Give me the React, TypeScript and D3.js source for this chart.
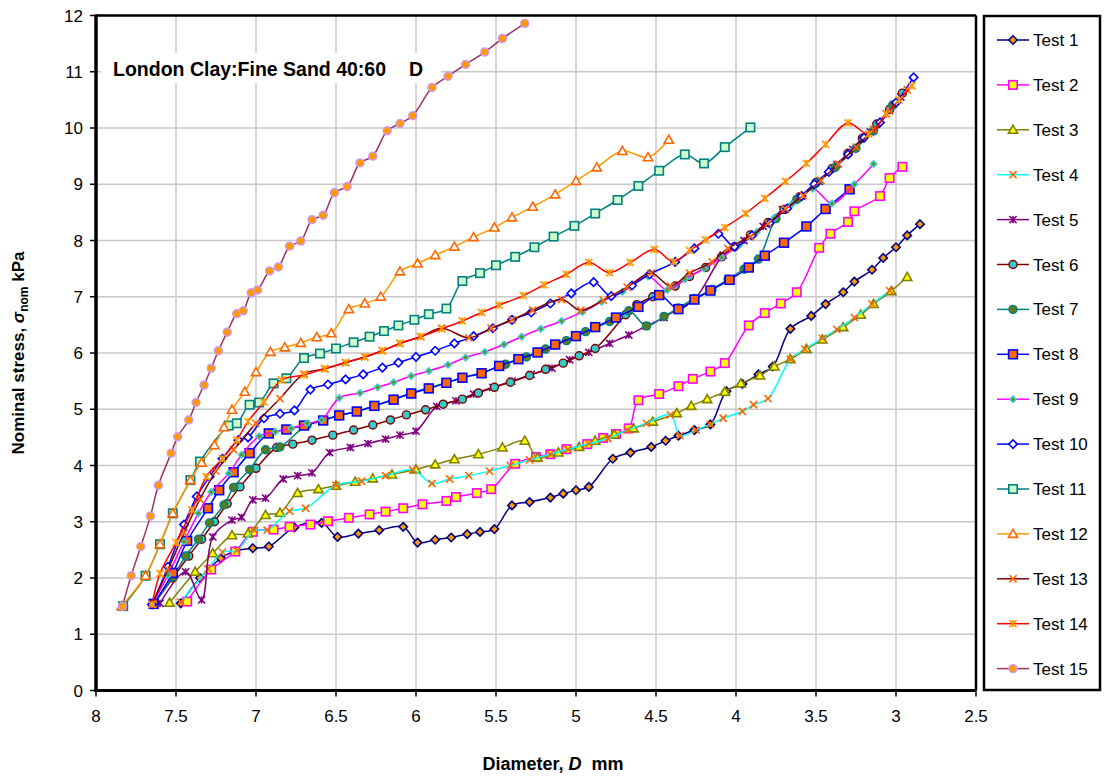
import React from 'react';
import * as d3 from 'd3';

const xTicks = [8, 7.5, 7, 6.5, 6, 5.5, 5, 4.5, 4, 3.5, 3, 2.5];
const yTicks = [0, 1, 2, 3, 4, 5, 6, 7, 8, 9, 10, 11, 12];
const seriesNames = ['Test 1','Test 2','Test 3','Test 4','Test 5','Test 6','Test 7','Test 8','Test 9','Test 10','Test 11','Test 12','Test 13','Test 14','Test 15'];

// [diameter D (mm), nominal stress (kPa)]
const test1 = [[7.47,1.55],[7.35,2.0],[7.22,2.35],[7.13,2.48],[7.02,2.53],[6.92,2.56],[6.76,2.90],[6.59,2.98],[6.49,2.73],[6.36,2.79],[6.23,2.85],[6.08,2.91],[5.99,2.63],[5.88,2.68],[5.78,2.72],[5.68,2.78],[5.60,2.82],[5.51,2.87],[5.40,3.29],[5.29,3.35],[5.16,3.43],[5.08,3.50],[5.00,3.56],[4.92,3.62],[4.77,4.12],[4.66,4.23],[4.53,4.33],[4.44,4.44],[4.36,4.53],[4.26,4.63],[4.16,4.73],[4.06,5.32],[3.96,5.45],[3.86,5.62],[3.77,5.76],[3.66,6.43],[3.53,6.66],[3.44,6.87],[3.33,7.08],[3.26,7.27],[3.15,7.48],[3.08,7.69],[3.00,7.88],[2.93,8.09],[2.85,8.29]];
const test2 = [[7.43,1.58],[7.28,2.15],[7.13,2.47],[7.02,2.82],[6.89,2.86],[6.79,2.91],[6.66,2.95],[6.55,3.01],[6.42,3.07],[6.29,3.13],[6.19,3.18],[6.08,3.24],[5.96,3.31],[5.81,3.37],[5.75,3.44],[5.62,3.51],[5.53,3.58],[5.38,4.03],[5.25,4.15],[5.16,4.20],[5.06,4.29],[4.93,4.38],[4.83,4.49],[4.75,4.56],[4.67,4.66],[4.61,5.16],[4.48,5.27],[4.36,5.41],[4.27,5.54],[4.16,5.67],[4.07,5.82],[3.92,6.49],[3.82,6.71],[3.72,6.88],[3.62,7.08],[3.48,7.87],[3.41,8.12],[3.30,8.33],[3.26,8.52],[3.10,8.79],[3.04,9.11],[2.96,9.31]];
const test3 = [[7.54,1.56],[7.38,2.11],[7.27,2.44],[7.15,2.76],[7.05,2.79],[6.94,3.12],[6.85,3.16],[6.74,3.51],[6.61,3.58],[6.50,3.64],[6.38,3.71],[6.27,3.77],[6.15,3.84],[6.00,3.93],[5.88,4.02],[5.76,4.11],[5.61,4.20],[5.46,4.32],[5.32,4.44],[5.24,4.14],[5.11,4.23],[4.98,4.33],[4.88,4.44],[4.76,4.55],[4.64,4.66],[4.52,4.78],[4.37,4.93],[4.28,5.06],[4.18,5.18],[4.07,5.31],[3.97,5.46],[3.85,5.60],[3.76,5.76],[3.66,5.89],[3.56,6.07],[3.46,6.24],[3.33,6.46],[3.22,6.68],[3.14,6.87],[3.03,7.10],[2.93,7.35]];
const test4 = [[7.47,1.57],[7.30,2.16],[7.21,2.46],[7.12,2.49],[7.01,2.85],[6.93,2.85],[6.79,3.19],[6.69,3.24],[6.50,3.65],[6.34,3.72],[6.19,3.82],[6.02,3.92],[5.90,3.68],[5.79,3.76],[5.67,3.82],[5.54,3.90],[5.41,4.00],[5.29,4.10],[5.16,4.20],[5.05,4.29],[4.92,4.39],[4.80,4.48],[4.68,4.63],[4.56,4.75],[4.41,4.90],[4.35,4.53],[4.25,4.63],[4.16,4.73],[4.08,4.84],[3.96,4.96],[3.89,5.08],[3.80,5.19],[3.66,5.89],[3.57,6.07],[3.46,6.26],[3.37,6.42],[3.26,6.63],[3.15,6.87],[3.04,7.11]];
const test5 = [[7.60,1.55],[7.44,2.11],[7.34,1.61],[7.27,2.73],[7.15,3.03],[7.09,3.08],[7.02,3.39],[6.94,3.42],[6.83,3.76],[6.74,3.82],[6.65,3.87],[6.54,4.23],[6.41,4.32],[6.30,4.39],[6.19,4.47],[6.10,4.54],[6.00,4.61],[5.87,5.05],[5.75,5.15],[5.64,5.27],[5.52,5.39],[5.40,5.50],[5.28,5.62],[5.15,5.73],[5.04,5.88],[4.92,6.01],[4.79,6.17],[4.67,6.32],[4.56,6.48],[4.45,6.63],[4.36,6.79],[4.26,6.95],[4.08,7.74],[3.95,8.0],[3.83,8.25],[3.71,8.55],[3.59,8.79],[3.48,9.05],[3.37,9.35],[3.27,9.62],[3.16,9.93],[3.06,10.25],[2.97,10.55]];
const test6 = [[7.64,1.53],[7.52,2.0],[7.42,2.39],[7.34,2.69],[7.26,3.00],[7.18,3.32],[7.10,3.62],[7.00,3.95],[6.87,4.32],[6.77,4.38],[6.65,4.45],[6.52,4.54],[6.39,4.63],[6.27,4.72],[6.16,4.81],[6.06,4.90],[5.94,4.99],[5.83,5.09],[5.71,5.18],[5.61,5.29],[5.51,5.39],[5.41,5.48],[5.29,5.60],[5.19,5.71],[5.08,5.82],[4.98,5.95],[4.88,6.08],[4.69,6.68],[4.62,6.86],[4.52,7.00],[4.38,7.19],[4.29,7.36],[4.19,7.52],[4.09,7.71],[4.01,7.89],[3.91,8.10],[3.80,8.32],[3.70,8.55],[3.60,8.78],[3.50,9.03],[3.40,9.28],[3.30,9.55],[3.21,9.82],[3.12,10.07],[3.04,10.33],[2.96,10.62]];
const test7 = [[7.64,1.53],[7.52,2.02],[7.44,2.39],[7.36,2.69],[7.29,2.98],[7.20,3.30],[7.14,3.61],[7.04,3.93],[6.94,4.28],[6.85,4.33],[6.68,4.72],[6.48,4.89],[6.37,4.96],[6.26,5.06],[6.14,5.18],[6.03,5.29],[5.92,5.38],[5.81,5.47],[5.71,5.56],[5.59,5.65],[5.44,5.80],[5.31,5.93],[5.19,6.07],[5.06,6.22],[4.94,6.38],[4.79,6.56],[4.67,6.75],[4.56,6.48],[4.45,6.65],[4.36,6.80],[4.26,6.97],[4.15,7.13],[4.05,7.31],[3.95,7.49],[3.86,7.67],[3.75,8.39],[3.62,8.73],[3.50,9.02],[3.38,9.30],[3.25,9.64],[3.14,9.95],[3.02,10.41]];
const test8 = [[7.64,1.54],[7.52,2.09],[7.43,2.66],[7.30,3.24],[7.23,3.56],[7.14,3.88],[7.04,4.22],[6.92,4.57],[6.81,4.64],[6.70,4.71],[6.58,4.80],[6.48,4.89],[6.37,4.96],[6.26,5.06],[6.14,5.17],[6.03,5.28],[5.92,5.37],[5.81,5.47],[5.71,5.56],[5.59,5.64],[5.48,5.77],[5.36,5.89],[5.24,6.01],[5.13,6.15],[5.00,6.30],[4.88,6.46],[4.75,6.63],[4.61,6.82],[4.48,7.03],[4.36,6.78],[4.26,6.95],[4.16,7.11],[4.04,7.30],[3.92,7.52],[3.82,7.73],[3.70,7.96],[3.56,8.25],[3.44,8.56],[3.29,8.91]];
const test9 = [[7.65,1.53],[7.55,2.05],[7.45,2.65],[7.36,3.15],[7.28,3.53],[7.17,3.86],[7.09,4.19],[6.98,4.52],[6.88,4.60],[6.78,4.66],[6.68,4.75],[6.59,4.81],[6.48,5.20],[6.35,5.29],[6.24,5.39],[6.14,5.48],[6.03,5.59],[5.92,5.68],[5.80,5.79],[5.69,5.92],[5.57,6.02],[5.45,6.15],[5.34,6.29],[5.22,6.43],[5.09,6.57],[4.96,6.73],[4.84,6.91],[4.71,7.09],[4.55,7.36],[4.43,7.12],[4.32,7.31],[4.20,7.50],[4.09,7.70],[3.98,7.92],[3.87,8.15],[3.76,8.40],[3.65,8.65],[3.52,8.92],[3.40,8.66],[3.26,9.00],[3.14,9.36]];
const test10 = [[7.65,1.53],[7.55,2.2],[7.45,2.95],[7.37,3.45],[7.29,3.80],[7.21,4.12],[7.11,4.45],[7.05,4.50],[6.95,4.84],[6.85,4.92],[6.76,4.98],[6.66,5.35],[6.55,5.44],[6.44,5.53],[6.33,5.62],[6.21,5.74],[6.11,5.83],[6.00,5.93],[5.88,6.04],[5.76,6.17],[5.64,6.30],[5.52,6.44],[5.40,6.59],[5.28,6.72],[5.16,6.88],[5.03,7.06],[4.89,7.26],[4.78,7.01],[4.65,7.20],[4.54,7.40],[4.38,7.62],[4.26,7.86],[4.11,8.12],[4.01,7.89],[3.90,8.09],[3.79,8.31],[3.68,8.57],[3.59,8.79],[3.51,9.00],[3.42,9.22],[3.30,9.53],[3.20,9.83],[3.10,10.1],[3.00,10.45],[2.89,10.90]];
const test11 = [[7.83,1.50],[7.69,2.04],[7.60,2.60],[7.52,3.15],[7.41,3.74],[7.35,4.07],[7.17,4.71],[7.12,4.75],[7.04,5.08],[6.98,5.12],[6.89,5.46],[6.81,5.55],[6.70,5.91],[6.60,5.99],[6.50,6.08],[6.39,6.19],[6.29,6.29],[6.20,6.39],[6.11,6.49],[6.01,6.59],[5.92,6.69],[5.81,6.79],[5.71,7.28],[5.60,7.42],[5.50,7.56],[5.38,7.71],[5.26,7.88],[5.14,8.07],[5.01,8.26],[4.88,8.48],[4.74,8.72],[4.61,8.97],[4.48,9.24],[4.32,9.53],[4.20,9.37],[4.07,9.66],[3.91,10.01]];
const test12 = [[7.84,1.50],[7.69,2.04],[7.60,2.60],[7.52,3.15],[7.41,3.74],[7.34,4.05],[7.26,4.36],[7.20,4.68],[7.15,4.99],[7.07,5.31],[7.00,5.66],[6.91,6.02],[6.82,6.10],[6.72,6.18],[6.62,6.28],[6.53,6.35],[6.42,6.78],[6.32,6.88],[6.22,7.00],[6.10,7.45],[5.99,7.59],[5.88,7.74],[5.76,7.89],[5.64,8.06],[5.51,8.23],[5.40,8.41],[5.27,8.60],[5.13,8.82],[5.00,9.06],[4.87,9.30],[4.71,9.59],[4.55,9.48],[4.42,9.79]];
const test13 = [[7.65,1.53],[7.55,2.15],[7.45,2.8],[7.35,3.4],[7.25,3.9],[7.14,4.28],[7.0,4.75],[6.85,5.19],[6.70,5.63],[6.57,5.72],[6.44,5.83],[6.32,5.93],[6.21,6.04],[6.10,6.17],[5.97,6.29],[5.84,6.44],[5.67,6.27],[5.53,6.44],[5.40,6.59],[5.27,6.76],[5.09,6.95],[4.97,6.76],[4.83,6.94],[4.68,7.17],[4.53,7.42],[4.41,7.19],[4.29,7.42],[4.15,7.62],[4.05,7.86],[3.91,8.07],[3.80,8.30],[3.69,8.56],[3.58,8.80],[3.47,9.07],[3.36,9.36],[3.25,9.66],[3.14,9.98],[3.04,10.3],[2.93,10.68]];
const test14 = [[7.65,1.53],[7.60,2.08],[7.50,2.63],[7.40,3.21],[7.31,3.80],[7.21,4.12],[7.12,4.45],[7.05,4.78],[6.95,5.13],[6.84,5.52],[6.70,5.61],[6.57,5.72],[6.44,5.83],[6.32,5.93],[6.21,6.04],[6.10,6.17],[5.97,6.29],[5.84,6.43],[5.71,6.57],[5.59,6.72],[5.48,6.85],[5.33,7.02],[5.20,7.21],[5.06,7.40],[4.92,7.61],[4.79,7.43],[4.66,7.61],[4.51,7.84],[4.39,7.62],[4.29,7.82],[4.19,8.01],[4.07,8.23],[3.94,8.48],[3.82,8.75],[3.69,9.05],[3.56,9.37],[3.44,9.71],[3.30,10.09],[3.17,9.89],[3.06,10.25],[2.98,10.5],[2.90,10.75]];
const test15 = [[7.835,1.50],[7.78,2.04],[7.72,2.56],[7.66,3.10],[7.61,3.65],[7.53,4.22],[7.49,4.51],[7.42,4.81],[7.375,5.12],[7.325,5.43],[7.28,5.73],[7.235,6.04],[7.18,6.37],[7.12,6.70],[7.08,6.75],[7.03,7.07],[6.99,7.12],[6.915,7.46],[6.86,7.53],[6.79,7.90],[6.72,7.99],[6.65,8.37],[6.58,8.45],[6.51,8.85],[6.43,8.96],[6.35,9.38],[6.27,9.50],[6.18,9.95],[6.10,10.08],[6.02,10.22],[5.90,10.72],[5.80,10.92],[5.69,11.13],[5.57,11.35],[5.46,11.59],[5.32,11.86]];

const seriesData = [test1, test2, test3, test4, test5, test6, test7, test8, test9, test10, test11, test12, test13, test14, test15];

type Style = { line: string; marker: string; fill: string; stroke: string; size: number };
const styles: Style[] = [
  { line: '#000080', marker: 'diamond', fill: '#FF9900', stroke: '#000080', size: 4.2 },
  { line: '#FF00FF', marker: 'square', fill: '#FFFF00', stroke: '#FF00FF', size: 4.2 },
  { line: '#808000', marker: 'triangle', fill: '#FFFF00', stroke: '#808000', size: 4.6 },
  { line: '#00FFFF', marker: 'x', fill: 'none', stroke: '#FF6600', size: 3.6 },
  { line: '#800080', marker: 'star', fill: 'none', stroke: '#800080', size: 3.6 },
  { line: '#800000', marker: 'circle', fill: '#33CCCC', stroke: '#800000', size: 4 },
  { line: '#008080', marker: 'circle', fill: '#5A7A1E', stroke: '#008080', size: 4 },
  { line: '#0000FF', marker: 'square', fill: '#FF6600', stroke: '#0000FF', size: 4.4 },
  { line: '#FF00FF', marker: 'smalldiamond', fill: '#808000', stroke: '#33CCCC', size: 3.4 },
  { line: '#0000FF', marker: 'diamond', fill: '#FFFFFF', stroke: '#0000FF', size: 4.2 },
  { line: '#008080', marker: 'square', fill: '#CCFFCC', stroke: '#008080', size: 4.2 },
  { line: '#FF9900', marker: 'triangle', fill: '#FFFFFF', stroke: '#FF6600', size: 4.6 },
  { line: '#800000', marker: 'x', fill: 'none', stroke: '#FF6600', size: 3.6 },
  { line: '#FF0000', marker: 'star', fill: 'none', stroke: '#FF9900', size: 3.6 },
  { line: '#993366', marker: 'circle', fill: '#FF9900', stroke: '#CC99FF', size: 4 },
];

const FONT = 'Liberation Sans, Arial, sans-serif';

function Marker({ type, x, y, s }: { type: string; x: number; y: number; s: Style }) {
  const r = s.size;
  switch (type) {
    case 'diamond':
      return <path d={`M${x},${y - r}L${x + r},${y}L${x},${y + r}L${x - r},${y}Z`} fill={s.fill} stroke={s.stroke} strokeWidth={1.6} />;
    case 'smalldiamond':
      return (
        <g>
          <path d={`M${x},${y - r}L${x + r},${y}L${x},${y + r}L${x - r},${y}Z`} fill={s.stroke} stroke={s.stroke} strokeWidth={1.2} />
          <circle cx={x} cy={y} r={1.5} fill={s.fill} />
        </g>
      );
    case 'square':
      return <rect x={x - r} y={y - r} width={2 * r} height={2 * r} fill={s.fill} stroke={s.stroke} strokeWidth={1.6} />;
    case 'triangle':
      return <path d={`M${x},${y - r}L${x + r},${y + r * 0.75}L${x - r},${y + r * 0.75}Z`} fill={s.fill} stroke={s.stroke} strokeWidth={1.6} />;
    case 'circle':
      return <circle cx={x} cy={y} r={r} fill={s.fill} stroke={s.stroke} strokeWidth={1.4} />;
    case 'x':
      return <path d={`M${x - r},${y - r}L${x + r},${y + r}M${x - r},${y + r}L${x + r},${y - r}`} stroke={s.stroke} strokeWidth={1.6} fill="none" />;
    case 'star':
      return <path d={`M${x - r},${y - r}L${x + r},${y + r}M${x - r},${y + r}L${x + r},${y - r}M${x},${y - r}L${x},${y + r}`} stroke={s.stroke} strokeWidth={1.6} fill="none" />;
    default:
      return null;
  }
}

export default function App() {
  const left = 96, right = 976, top = 15.5, bottom = 690.5;
  const x = d3.scaleLinear().domain([8, 2.5]).range([left, right]);
  const y = d3.scaleLinear().domain([0, 12]).range([bottom, top]);
  const line = d3.line<number[]>().x(d => x(d[0])).y(d => y(d[1])).curve(d3.curveCatmullRom.alpha(0.5));

  const legX = 984, legY = 16, legW = 116, legH = 674;
  const legStep = 44.9;

  return (
    <svg width={1104} height={780} style={{ position: 'absolute', left: 0, top: 0, background: '#fff' }} fontFamily={FONT}>
      <rect x={0} y={0} width={1104} height={780} fill="#fff" />
      {xTicks.map(t => (
        <line key={'gx' + t} x1={x(t)} x2={x(t)} y1={top} y2={bottom} stroke="#C8C8C8" strokeWidth={1.5} />
      ))}
      {yTicks.map(t => (
        <line key={'gy' + t} x1={left} x2={right} y1={y(t)} y2={y(t)} stroke="#C8C8C8" strokeWidth={1.5} />
      ))}
      <rect x={101} y={53} width={340} height={30} fill="#fff" />
      <text x={113} y={76} fontSize={19.5} fontWeight="bold" fill="#000">London Clay:Fine Sand 40:60</text>
      <text x={409} y={76} fontSize={19.5} fontWeight="bold" fill="#000">D</text>

      {seriesData.map((data, i) => (
        <g key={'m' + i}>
          <path d={line(data) || ''} fill="none" stroke={styles[i].line} strokeWidth={1.5} />
          {data.map((d, j) => (
            <Marker key={j} type={styles[i].marker} x={x(d[0])} y={y(d[1])} s={styles[i]} />
          ))}
        </g>
      ))}

      <line x1={left} x2={right} y1={top} y2={top} stroke="#000" strokeWidth={2.5} />
      <line x1={right} x2={right} y1={top} y2={bottom} stroke="#000" strokeWidth={2.5} />
      <line x1={left} x2={left} y1={top - 1} y2={bottom + 1.5} stroke="#000" strokeWidth={3.5} />
      <line x1={left - 1.5} x2={right} y1={bottom} y2={bottom} stroke="#000" strokeWidth={3} />

      {yTicks.map(t => (
        <g key={'ty' + t}>
          <line x1={left - 6} x2={left} y1={y(t)} y2={y(t)} stroke="#000" strokeWidth={1.5} />
          <text x={83} y={y(t) + 6} fontSize={17} textAnchor="end" fill="#000">{t}</text>
        </g>
      ))}
      {xTicks.map(t => (
        <g key={'tx' + t}>
          <line x1={x(t)} x2={x(t)} y1={bottom} y2={bottom + 6} stroke="#000" strokeWidth={1.5} />
          <text x={x(t)} y={722} fontSize={17} textAnchor="middle" fill="#000">{t}</text>
        </g>
      ))}

      <text x={553} y={770} fontSize={18} fontWeight="bold" textAnchor="middle" fill="#000">
        Diameter, <tspan fontStyle="italic">D</tspan>{'\u00a0\u00a0'}mm
      </text>
      <text transform={`translate(24,${(top + bottom) / 2}) rotate(-90)`} fontSize={17} fontWeight="bold" textAnchor="middle" fill="#000">
        Nominal stress, <tspan fontStyle="italic">σ</tspan><tspan fontSize={12} dy={4}>nom</tspan><tspan dy={-4}> kPa</tspan>
      </text>

      <rect x={legX} y={legY} width={legW} height={legH} fill="#fff" stroke="#000" strokeWidth={2.5} />
      {seriesNames.map((n, i) => {
        const cy = 40 + i * legStep;
        return (
          <g key={'lg' + i}>
            <line x1={997} x2={1029} y1={cy} y2={cy} stroke={styles[i].line} strokeWidth={1.5} />
            <Marker type={styles[i].marker} x={1013} y={cy} s={styles[i]} />
            <text x={1033} y={cy + 6} fontSize={17} fill="#000">{n}</text>
          </g>
        );
      })}
    </svg>
  );
}
